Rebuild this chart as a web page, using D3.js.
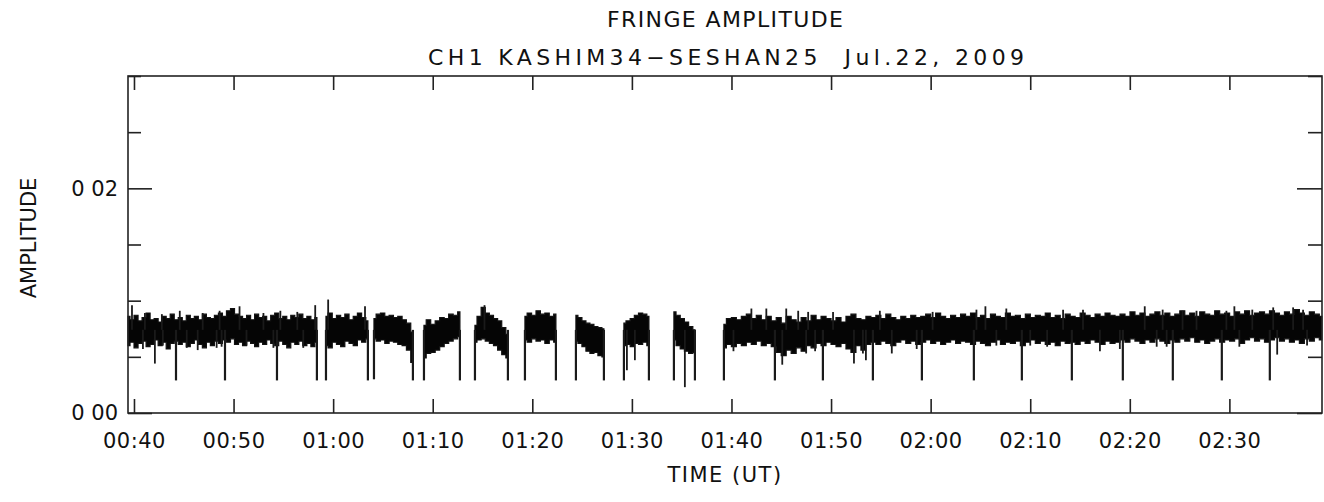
<!DOCTYPE html>
<html>
<head>
<meta charset="utf-8">
<script src="https://cdn.jsdelivr.net/npm/d3@7"></script>
<style>
body { margin: 0; background: #fff; }
text { font-family: "DejaVu Sans", sans-serif; fill: #111; }
</style>
</head>
<body>
<svg id="chart" width="1324" height="502"></svg>
<script>
// time in minutes after 00:00 UT, amplitude in units of 1e-3
var xTicks = [40, 50, 60, 70, 80, 90, 100, 110, 120, 130, 140, 150];
var xTickLabels = ["00:40", "00:50", "01:00", "01:10", "01:20", "01:30", "01:40", "01:50", "02:00", "02:10", "02:20", "02:30"];
var yMajor = [0, 20];
var yMajorLabels = ["0 00", "0 02"];
var yMinor = [5, 10, 15, 25, 30];

// scans with data (start / end time)
var segStart = [39.40, 59.28, 64.10, 69.12, 74.24, 79.26, 84.38, 89.20, 94.22, 99.24];
var segEnd   = [58.37, 63.49, 68.01, 72.73, 77.55, 82.37, 87.19, 91.71, 96.33, 159.28];

// upper / lower edge of the noise band
var segHigh = [
  [8.6, 8.3, 8.7, 8.2, 8.5, 8.9, 8.3, 8.4, 8.1, 8.6, 8.4, 8.8, 8.3, 8.5, 8.2, 8.7, 8.4, 8.6, 8.3, 8.8,
   8.5, 8.4, 8.7, 8.9, 8.6, 9.1, 9.3, 8.8, 8.6, 8.4, 8.7, 8.3, 8.8, 8.5, 8.6, 8.2, 8.7, 8.9, 8.4, 8.6,
   8.3, 8.7, 8.5, 8.8, 8.4, 8.6, 8.3, 8.5],
  [8.6, 8.9, 8.4, 8.7, 8.5, 8.8, 8.3, 8.6, 8.9, 8.5, 8.2],
  [8.4, 8.8, 8.9, 8.6, 8.7, 8.5, 8.6, 8.3, 8.0, 7.2],
  [7.8, 8.3, 7.9, 8.2, 8.5, 8.4, 8.8, 8.7, 9.0],
  [7.8, 8.6, 9.4, 8.9, 8.7, 8.4, 8.2, 7.6, 7.0],
  [8.6, 8.9, 8.7, 9.1, 8.8, 8.9, 8.6, 8.8],
  [8.7, 8.5, 8.2, 8.0, 7.9, 7.7, 7.6, 7.5],
  [8.0, 8.2, 8.4, 8.7, 8.9, 8.8, 8.6],
  [9.0, 8.7, 8.4, 8.1, 7.7, 7.4],
  [7.9, 8.4, 8.5, 8.3, 8.6, 8.8, 8.4, 8.7, 8.3, 8.6, 8.2, 8.5, 8.0, 8.6, 8.3, 8.1, 8.5, 8.2, 8.7, 8.3,
   8.6, 8.4, 8.2, 8.5, 8.1, 8.6, 8.8, 8.4, 8.3, 8.6, 8.5, 8.7, 8.4, 8.8, 8.5, 8.3, 8.6, 8.4, 8.7, 8.5,
   8.6, 8.8, 8.5, 8.9, 8.6, 8.4, 8.7, 8.5, 8.8, 8.6, 8.9, 8.5, 8.7, 8.4, 8.8, 8.6, 8.5, 8.9, 8.6, 8.7,
   8.4, 8.8, 8.5, 8.7, 8.6, 8.9, 8.5, 8.7, 8.4, 8.8, 8.6, 8.5, 8.9, 8.7, 8.5, 8.8, 8.6, 8.9, 8.7, 8.6,
   8.8, 8.6, 9.0, 8.7, 8.9, 8.6, 8.8, 9.0, 8.7, 8.9, 8.6, 8.8, 9.1, 8.7, 8.9, 8.6, 9.0, 8.8, 8.7, 9.1,
   8.8, 8.9, 8.6, 9.0, 8.8, 9.1, 8.7, 8.9, 9.0, 8.8, 9.1, 8.9, 8.7, 9.0, 8.8, 9.2, 8.9, 8.7, 9.0, 8.8, 8.6]
];
var segLow = [
  [6.0, 6.3, 5.8, 6.2, 6.4, 5.9, 6.1, 6.5, 6.0, 6.3, 5.7, 6.2, 6.4, 6.1, 6.3, 5.9, 6.2, 6.5, 6.1, 5.8,
   6.3, 6.0, 6.4, 6.2, 6.5, 6.3, 6.6, 6.1, 6.3, 6.0, 6.4, 6.2, 5.9, 6.3, 6.1, 6.5, 6.2, 6.0, 6.4, 6.1,
   5.8, 6.3, 6.1, 6.4, 6.0, 6.2, 5.9, 6.3],
  [6.0, 5.8, 6.3, 6.1, 5.9, 6.4, 6.2, 6.0, 6.5, 6.3, 6.6],
  [6.6, 6.4, 6.5, 6.2, 6.4, 6.3, 6.1, 6.0, 5.6, 4.5],
  [4.9, 5.3, 5.4, 5.6, 5.9, 6.2, 6.4, 6.6, 6.8],
  [6.3, 6.5, 6.6, 6.4, 6.2, 6.0, 5.6, 5.2, 4.9],
  [6.5, 6.3, 6.6, 6.4, 6.5, 6.2, 6.5, 6.3],
  [6.4, 6.2, 5.9, 5.5, 5.3, 5.4, 5.1, 5.0],
  [6.0, 6.1, 5.9, 6.2, 6.1, 6.3, 6.0],
  [6.5, 6.0, 5.7, 5.5, 5.3, 5.4],
  [5.8, 6.1, 5.9, 6.2, 6.0, 6.3, 6.1, 6.4, 6.0, 6.2, 5.9, 5.4, 5.1, 5.6, 5.3, 5.8, 5.5, 6.0, 5.8, 6.2,
   6.0, 6.3, 6.1, 5.9, 6.2, 5.7, 5.4, 6.0, 5.6, 6.1, 6.3, 6.1, 6.4, 6.2, 6.0, 6.3, 6.5, 6.2, 6.4, 6.1,
   6.3, 6.5, 6.2, 6.4, 6.1, 6.3, 6.5, 6.2, 6.4, 6.3, 6.1, 6.4, 6.2, 6.0, 6.3, 6.5, 6.1, 6.3, 6.2, 6.4,
   6.0, 6.3, 6.5, 6.2, 6.4, 6.1, 6.3, 6.0, 6.4, 6.2, 6.3, 6.1, 6.4, 6.2, 6.5, 6.3, 6.1, 6.4, 6.2, 6.3,
   6.5, 6.3, 6.6, 6.4, 6.2, 6.5, 6.3, 6.6, 6.4, 6.2, 6.5, 6.3, 6.6, 6.4, 6.7, 6.3, 6.5, 6.2, 6.4, 6.6,
   6.3, 6.5, 6.4, 6.6, 6.2, 6.5, 6.7, 6.4, 6.6, 6.3, 6.5, 6.7, 6.4, 6.6, 6.3, 6.5, 6.2, 6.6, 6.4, 6.7, 6.5]
];

// deep drops at scan boundaries
var dropTimes = [44.22, 49.14, 54.36, 58.37, 59.28, 63.49, 64.10, 68.01, 69.12, 72.73, 74.24, 77.55,
  79.26, 82.37, 84.38, 87.19, 89.20, 91.71, 94.22, 96.33, 99.24, 104.36, 109.18, 114.20, 119.12,
  124.34, 129.16, 134.18, 139.30, 144.32, 149.24, 154.06];
var dropValues = [2.9, 2.9, 2.9, 2.9, 2.9, 2.9, 3.0, 2.9, 2.9, 2.9, 2.9, 2.9,
  2.9, 2.9, 2.9, 2.9, 2.9, 2.9, 2.9, 2.9, 2.9, 2.9, 2.9, 2.9, 2.9,
  2.9, 2.9, 2.9, 2.9, 2.9, 2.9, 2.9];

// single outlier samples sticking out of the band
var hairTimes  = [39.8, 41.1, 42.8, 44.6, 46.9, 48.6, 53.0, 54.7, 56.4, 50.6, 58.2, 59.5, 63.2, 75.2,
  102.0, 103.5, 105.5, 106.7, 107.7, 110.2, 114.9, 120.2, 124.6, 125.5, 127.6,
  133.3, 135.3, 141.5, 143.3, 145.3, 146.7, 149.7, 150.5, 152.3, 154.4, 156.4, 157.4,
  40.9, 42.1, 42.9, 45.3, 46.4, 48.3, 48.8, 51.3, 54.0, 57.0, 89.5, 90.3, 95.32,
  100.2, 105.1, 107.5, 108.4, 112.3, 113.2, 113.5, 116.1, 118.6, 126.6, 130.0,
  131.7, 137.0, 139.0, 142.7, 143.7, 151.0, 154.8, 157.8];
var hairValues = [9.6, 8.9, 8.8, 9.1, 8.9, 9.1, 8.9, 9.1, 9.0, 9.5, 9.6, 10.1, 9.5, 9.6,
  9.3, 9.3, 9.3, 9.1, 9.0, 9.0, 9.1, 9.0, 9.2, 9.5, 9.3,
  9.2, 9.2, 9.5, 9.2, 9.1, 9.1, 9.1, 9.5, 9.2, 9.4, 9.4, 9.2,
  5.7, 4.4, 6.0, 5.8, 5.6, 5.8, 5.9, 6.0, 5.8, 5.8, 3.8, 4.7, 2.3,
  5.5, 4.3, 5.3, 5.5, 4.4, 5.3, 4.7, 5.3, 5.7, 6.0, 6.0,
  5.9, 5.5, 5.7, 5.9, 5.9, 5.9, 5.2, 6.0];
var hairBase = 7.4;

var svg = d3.select("#chart");
var plotLeft = 128, plotRight = 1322, plotTop = 76, plotBottom = 413;

var x = d3.scaleLinear().domain([39.4, 159.3]).range([plotLeft, plotRight]);
var y = d3.scaleLinear().domain([0, 30]).range([plotBottom, plotTop]);

// titles
svg.append("text").attr("x", 725).attr("y", 27).attr("text-anchor", "middle")
   .style("font-size", "22px").attr("textLength", 236).attr("lengthAdjust", "spacing")
   .text("FRINGE AMPLITUDE");
svg.append("text").attr("x", 726).attr("y", 65).attr("text-anchor", "middle")
   .style("font-size", "22px").style("white-space", "pre")
   .attr("textLength", 596).attr("lengthAdjust", "spacing")
   .text("CH1 KASHIM34\u2212SESHAN25  Jul.22, 2009");

// band of each scan
var plot = svg.append("g");
var area = d3.area()
   .curve(d3.curveStep)
   .x(function (d) { return x(d.t); })
   .y0(function (d) { return y(d.lo); })
   .y1(function (d) { return y(d.hi); });

segStart.forEach(function (s, k) {
  var hi = segHigh[k], lo = segLow[k], n = hi.length;
  var pts = hi.map(function (h, i) {
    return { t: s + (segEnd[k] - s) * i / (n - 1), hi: h, lo: lo[i] };
  });
  plot.append("path").datum(pts).attr("d", area)
      .attr("fill", "#050505").attr("stroke", "#111").attr("stroke-width", 1.2);
});

plot.selectAll("line.drop").data(dropTimes).enter().append("line")
   .attr("class", "drop")
   .attr("x1", function (d) { return x(d); }).attr("x2", function (d) { return x(d); })
   .attr("y1", y(hairBase)).attr("y2", function (d, i) { return y(dropValues[i]); })
   .attr("stroke", "#1a1a1a").attr("stroke-width", 2.2);

plot.selectAll("line.hair").data(hairTimes).enter().append("line")
   .attr("class", "hair")
   .attr("x1", function (d) { return x(d); }).attr("x2", function (d) { return x(d); })
   .attr("y1", y(hairBase)).attr("y2", function (d, i) { return y(hairValues[i]); })
   .attr("stroke", "#1a1a1a").attr("stroke-width", 1.8);

// axes with inward ticks
function styleAxis(g) {
  g.select(".domain").remove();
  g.selectAll(".tick line").attr("stroke", "#222").attr("stroke-width", 1.6);
  g.selectAll(".tick text").style("font-size", "21px").attr("fill", "#111");
}

svg.append("g").attr("transform", "translate(0," + plotBottom + ")")
   .call(d3.axisBottom(x).tickValues(xTicks).tickSize(-14).tickPadding(20)
         .tickFormat(function (d, i) { return xTickLabels[i]; }))
   .call(styleAxis)
   .selectAll(".tick text").style("letter-spacing", "0.5px");
svg.append("g").attr("transform", "translate(0," + plotTop + ")")
   .call(d3.axisTop(x).tickValues(xTicks).tickSize(-14).tickFormat(""))
   .call(styleAxis);

svg.append("g").attr("transform", "translate(" + plotLeft + ",0)")
   .call(d3.axisLeft(y).tickValues(yMajor).tickSize(-24).tickPadding(10)
         .tickFormat(function (d, i) { return yMajorLabels[i]; }))
   .call(styleAxis);
svg.append("g").attr("transform", "translate(" + plotLeft + ",0)")
   .call(d3.axisLeft(y).tickValues(yMinor).tickSize(-13).tickFormat(""))
   .call(styleAxis);
svg.append("g").attr("transform", "translate(" + plotRight + ",0)")
   .call(d3.axisRight(y).tickValues(yMajor).tickSize(-25).tickFormat(""))
   .call(styleAxis);
svg.append("g").attr("transform", "translate(" + plotRight + ",0)")
   .call(d3.axisRight(y).tickValues(yMinor).tickSize(-14).tickFormat(""))
   .call(styleAxis);

// frame
svg.append("rect").attr("x", plotLeft).attr("y", plotTop)
   .attr("width", plotRight - plotLeft).attr("height", plotBottom - plotTop)
   .attr("fill", "none").attr("stroke", "#222").attr("stroke-width", 1.6);

// axis titles
svg.append("text").attr("x", 725).attr("y", 482).attr("text-anchor", "middle")
   .style("font-size", "21px").style("letter-spacing", "1.5px").text("TIME (UT)");
svg.append("text").attr("transform", "translate(36,238) rotate(-90)")
   .attr("text-anchor", "middle").style("font-size", "21px")
   .text("AMPLITUDE");
</script>
</body>
</html>
